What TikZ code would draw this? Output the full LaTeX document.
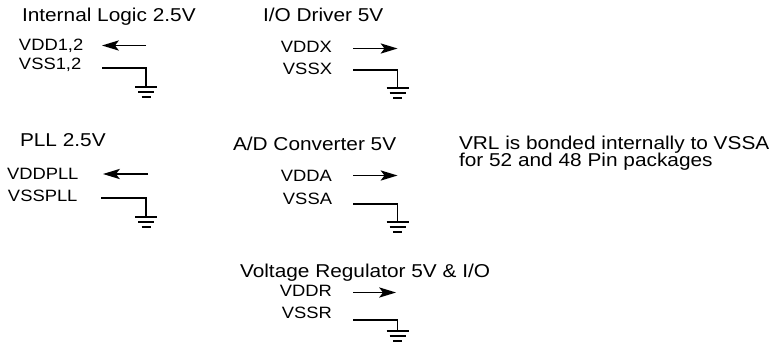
\documentclass[tikz,border=0pt]{standalone}
\usepackage{fontspec}
\usepackage{graphicx}
\setmainfont{Liberation Sans}
\newcommand{\ttl}[1]{\scalebox{1.12}[1]{\fontsize{18.6}{18.6}\selectfont #1}}
\newcommand{\lbl}[1]{\scalebox{1.12}[1]{\fontsize{16.4}{16.4}\selectfont #1}}
\tikzset{
  title/.style={anchor=base west, inner sep=0pt, outer sep=0pt},
  pinl/.style={anchor=base west, inner sep=0pt, outer sep=0pt},
  pinr/.style={anchor=base east, inner sep=0pt, outer sep=0pt},
  wire/.style={line width=1.3pt},
  supply/.style={line width=1.3pt, shorten >=10pt},
  head/.pic={
    \fill (0,0) -- (-17,-5.2) -- (-13,0) -- (-17,5.2) -- cycle;
  },
  gnd/.pic={
    \draw[line width=1.3pt] (-11,0) -- (11,0);
    \draw[line width=1.3pt] (-8,5) -- (8,5);
    \draw[line width=1.3pt] (-4.5,10) -- (4.5,10);
  }
}
\begin{document}
\begin{tikzpicture}[x=1pt,y=-1pt]
\useasboundingbox (0,0) rectangle (771,343);
% Block 1
\node[title] (t1) at (22,21) {\ttl{Internal Logic 2.5V}};
\node[pinl] (vdd1) at (19,50) {\lbl{VDD1,2}};
\node[pinl] (vss1) at (19,69) {\lbl{VSS1,2}};
\coordinate (a1s) at (146,45.5); \coordinate (a1e) at (102,45.5);
\draw[supply] (a1s) -- (a1e);
\pic[rotate=180] at (a1e) {head};
\coordinate (g1s) at (102,68); \coordinate (g1c) at (146,68); \coordinate (g1) at (146,87);
\draw[wire] (g1s) -- (g1c) -- (g1);
\pic at (g1) {gnd};
% Block 2
\node[title] (t2) at (263,21) {\ttl{I/O Driver 5V}};
\node[pinr] (vdd2) at (332,52) {\lbl{VDDX}};
\node[pinr] (vss2) at (332,74) {\lbl{VSSX}};
\coordinate (a2s) at (353,48.5); \coordinate (a2e) at (397.5,48.5);
\draw[supply] (a2s) -- (a2e);
\pic at (a2e) {head};
\coordinate (g2s) at (353,70); \coordinate (g2c) at (397.5,70); \coordinate (g2) at (397.5,88);
\draw[wire] (g2s) -- (g2c) -- (g2);
\pic at (g2) {gnd};
% Block 3
\node[title] (t3) at (20,146) {\ttl{PLL 2.5V}};
\node[pinl] (vdd3) at (7,179) {\lbl{VDDPLL}};
\node[pinl] (vss3) at (8,201) {\lbl{VSSPLL}};
\coordinate (a3s) at (148,174); \coordinate (a3e) at (103,174);
\draw[supply] (a3s) -- (a3e);
\pic[rotate=180] at (a3e) {head};
\coordinate (g3s) at (101,198); \coordinate (g3c) at (146,198); \coordinate (g3) at (146,217);
\draw[wire] (g3s) -- (g3c) -- (g3);
\pic at (g3) {gnd};
% Block 4
\node[title] (t4) at (233,150) {\ttl{A/D Converter 5V}};
\node[pinr] (vdd4) at (332,181) {\lbl{VDDA}};
\node[pinr] (vss4) at (332,204) {\lbl{VSSA}};
\coordinate (a4s) at (353,175.5); \coordinate (a4e) at (397.5,175.5);
\draw[supply] (a4s) -- (a4e);
\pic at (a4e) {head};
\coordinate (g4s) at (353,204); \coordinate (g4c) at (397.5,204); \coordinate (g4) at (397.5,222);
\draw[wire] (g4s) -- (g4c) -- (g4);
\pic at (g4) {gnd};
% Block 5
\node[title] (t5) at (240,277) {\ttl{Voltage Regulator 5V \& I/O}};
\node[pinr] (vdd5) at (332,296) {\lbl{VDDR}};
\node[pinr] (vss5) at (332,318) {\lbl{VSSR}};
\coordinate (a5s) at (353,292.5); \coordinate (a5e) at (396,292.5);
\draw[supply] (a5s) -- (a5e);
\pic at (a5e) {head};
\coordinate (g5s) at (353,320); \coordinate (g5c) at (397.5,320); \coordinate (g5) at (397.5,331);
\draw[wire] (g5s) -- (g5c) -- (g5);
\pic at (g5) {gnd};
% Note
\node[title] (note1) at (459,149.3) {\ttl{VRL is bonded internally to VSSA}};
\node[title] (note2) at (459,166.7) {\ttl{for 52 and 48 Pin packages}};
\end{tikzpicture}
\end{document}
